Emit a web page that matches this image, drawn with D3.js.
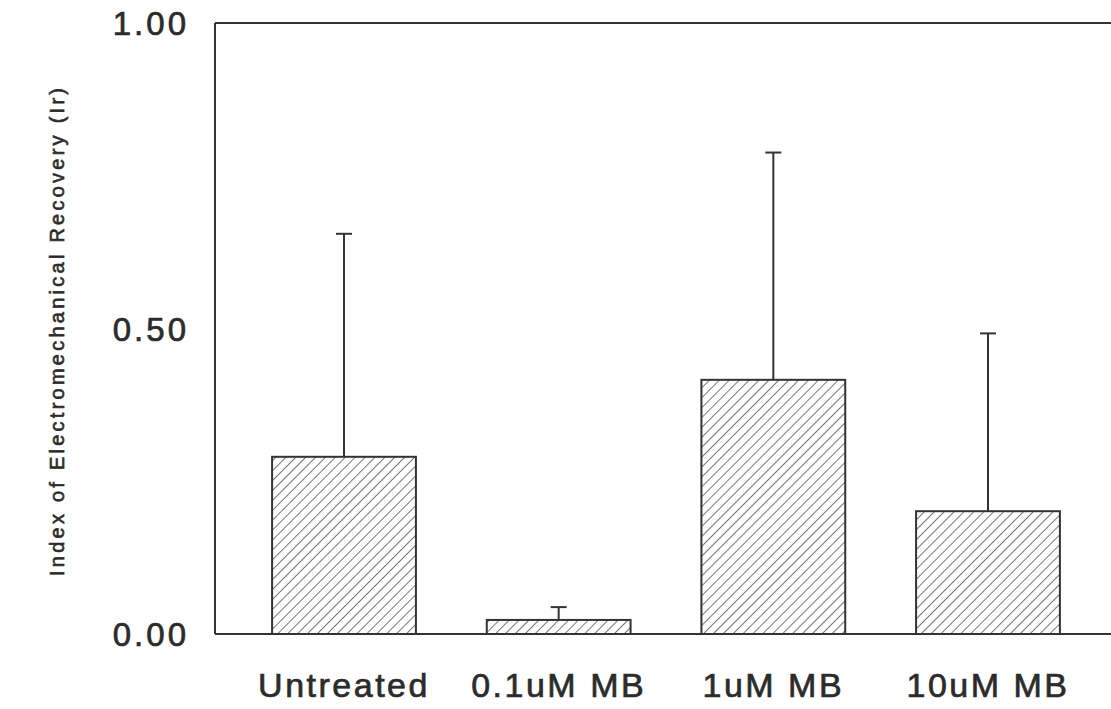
<!DOCTYPE html>
<html lang="en">
<head>
<meta charset="utf-8">
<title>Index of Electromechanical Recovery</title>
<script src="https://cdnjs.cloudflare.com/ajax/libs/d3/7.8.5/d3.min.js"></script>
<style>
  body { margin: 0; background: #fff; }
  text { font-family: "Liberation Sans", Arial, sans-serif; fill: #2b2b2b; stroke: #2b2b2b; }
</style>
</head>
<body>
<div id="viz"></div>
<script>
// data
const categories = ["Untreated", "0.1uM MB", "1uM MB", "10uM MB"];
const means = [0.290, 0.023, 0.416, 0.201];
const errors = [0.365, 0.021, 0.372, 0.291];
const tickValues = [0, 0.5, 1];
const tickLabels = ["0.00", "0.50", "1.00"];

const width = 1111, height = 709;
const plotLeft = 215, plotRight = 1117, plotTop = 23, plotBottom = 634;

const svg = d3.select("#viz").append("svg")
  .attr("width", width)
  .attr("height", height);

// hatch pattern
const defs = svg.append("defs");
const pat = defs.append("pattern")
  .attr("id", "hatch")
  .attr("patternUnits", "userSpaceOnUse")
  .attr("width", 7)
  .attr("height", 7)
  .attr("patternTransform", "rotate(45)");
pat.append("rect").attr("width", 7).attr("height", 7).attr("fill", "#fff");
pat.append("line")
  .attr("x1", 0).attr("y1", 0).attr("x2", 0).attr("y2", 7)
  .attr("stroke", "#4a4a4a").attr("stroke-width", 1.5);

const x = d3.scaleBand()
  .domain(categories)
  .range([plotLeft, plotRight])
  .paddingInner(0.33)
  .paddingOuter(0.266);

const y = d3.scaleLinear()
  .domain([0, 1])
  .range([plotBottom, plotTop]);

const rows = categories.map((c, i) => ({ cat: c, mean: means[i], err: errors[i] }));

// error bars (upper only)
const eb = svg.append("g").attr("class", "errbars")
  .attr("stroke", "#333").attr("stroke-width", 2);
eb.selectAll("line.stem")
  .data(rows).enter().append("line")
  .attr("class", "stem")
  .attr("x1", d => x(d.cat) + x.bandwidth() / 2)
  .attr("x2", d => x(d.cat) + x.bandwidth() / 2)
  .attr("y1", d => y(d.mean))
  .attr("y2", d => y(d.mean + d.err));
eb.selectAll("line.cap")
  .data(rows).enter().append("line")
  .attr("class", "cap")
  .attr("x1", d => x(d.cat) + x.bandwidth() / 2 - 8)
  .attr("x2", d => x(d.cat) + x.bandwidth() / 2 + 8)
  .attr("y1", d => y(d.mean + d.err))
  .attr("y2", d => y(d.mean + d.err));

// bars
svg.append("g").attr("class", "bars")
  .selectAll("rect")
  .data(rows).enter().append("rect")
  .attr("x", d => x(d.cat))
  .attr("y", d => y(d.mean))
  .attr("width", x.bandwidth())
  .attr("height", d => y(0) - y(d.mean))
  .attr("fill", "url(#hatch)")
  .attr("stroke", "#333")
  .attr("stroke-width", 2);

// frame: left, top, bottom
const frame = svg.append("g").attr("stroke", "#333").attr("stroke-width", 2).attr("fill", "none");
frame.append("line").attr("x1", plotLeft).attr("x2", plotLeft).attr("y1", y(1)).attr("y2", y(0));
frame.append("line").attr("x1", plotLeft).attr("x2", width).attr("y1", y(1)).attr("y2", y(1));
frame.append("line").attr("x1", plotLeft).attr("x2", width).attr("y1", y(0)).attr("y2", y(0));

// y tick labels
svg.append("g").attr("class", "yticks")
  .selectAll("text")
  .data(tickValues).enter().append("text")
  .attr("x", 189)
  .attr("y", d => y(d) + 12)
  .attr("text-anchor", "end")
  .attr("font-size", 33)
  .attr("letter-spacing", 3)
  .attr("stroke-width", 0.7)
  .text((d, i) => tickLabels[i]);

// category labels
svg.append("g").attr("class", "xlabels")
  .selectAll("text")
  .data(categories).enter().append("text")
  .attr("x", d => x(d) + x.bandwidth() / 2)
  .attr("y", 697)
  .attr("text-anchor", "middle")
  .attr("font-size", 34)
  .attr("letter-spacing", 2.5)
  .attr("stroke-width", 0.7)
  .text(d => d);

// y axis title
svg.append("text")
  .attr("transform", "translate(64," + 332 + ") rotate(-90)")
  .attr("text-anchor", "middle")
  .attr("font-size", 20)
  .attr("stroke-width", 0.6)
  .attr("textLength", 488)
  .attr("lengthAdjust", "spacing")
  .text("Index of Electromechanical Recovery (Ir)");
</script>
</body>
</html>
